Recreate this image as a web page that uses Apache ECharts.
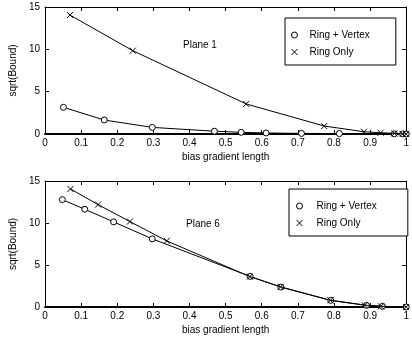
<!DOCTYPE html>
<html>
<head>
<meta charset="utf-8">
<script src="https://cdn.jsdelivr.net/npm/echarts@6/dist/echarts.min.js"></script>
<style>
  html, body { margin: 0; padding: 0; background: #fff; }
  #chart { width: 412px; height: 337px; }
</style>
</head>
<body>
<div id="chart"></div>
<script>
// Plane 1 (top panel)
const p1RingVertexX = [0.051, 0.164, 0.297, 0.469, 0.543, 0.612, 0.71, 0.815, 0.967, 0.99, 1.0];
const p1RingVertexY = [3.15, 1.65, 0.78, 0.33, 0.2, 0.12, 0.07, 0.05, 0.02, 0.01, 0];
const p1RingOnlyX = [0.069, 0.243, 0.557, 0.773, 0.883, 0.929, 0.967, 0.99, 1.0];
const p1RingOnlyY = [14.05, 9.84, 3.55, 0.94, 0.27, 0.15, 0.07, 0.02, 0];

// Plane 6 (bottom panel)
const p6RingVertexX = [0.048, 0.110, 0.190, 0.297, 0.568, 0.653, 0.791, 0.89, 0.934, 1.0];
const p6RingVertexY = [12.78, 11.64, 10.13, 8.11, 3.64, 2.37, 0.79, 0.2, 0.08, 0];
const p6RingOnlyX = [0.0705, 0.147, 0.235, 0.337, 0.567, 0.652, 0.79, 0.885, 0.93, 1.0];
const p6RingOnlyY = [14.05, 12.19, 10.17, 7.87, 3.62, 2.4, 0.8, 0.22, 0.08, 0];

const seriesNames = ["Ring + Vertex", "Ring Only"];
const panelLabels = ["Plane 1", "Plane 6"];
const xTitle = "bias gradient length";
const yTitle = "sqrt(Bound)";

const FONT = "Liberation Sans, Arial, Helvetica, sans-serif";
const CROSS = "path://M0,0L10,10M10,0L0,10";

const zip = (xs, ys) => xs.map((x, i) => [x, ys[i]]);

const chart = echarts.init(document.getElementById("chart"), null, { renderer: "canvas" });

const grids = [
  { left: 33, right: 0, top: 7, height: 127 },
  { left: 33, right: 0, top: 181, height: 126 },
];

function bottomX(gi) {
  return {
    gridIndex: gi, type: "value", min: 0, max: 1, interval: 0.1, position: "bottom",
    name: xTitle, nameLocation: "middle", nameGap: 18,
    nameTextStyle: { color: "#000", fontFamily: FONT, fontSize: 10 },
    axisLine: { show: true, onZero: false, lineStyle: { color: "#000", width: 2 } },
    axisTick: { show: true, inside: true, length: 4, lineStyle: { color: "#000" } },
    axisLabel: { color: "#000", fontFamily: FONT, fontSize: 10, margin: 4 },
    splitLine: { show: false },
  };
}
function topX(gi) {
  return {
    gridIndex: gi, type: "value", min: 0, max: 1, interval: 0.1, position: "top",
    axisLine: { show: true, onZero: false, lineStyle: { color: "#000", width: 1 } },
    axisTick: { show: true, inside: true, length: 4, lineStyle: { color: "#000" } },
    axisLabel: { show: false }, splitLine: { show: false },
  };
}
function leftY(gi) {
  return {
    gridIndex: gi, type: "value", min: 0, max: 15, interval: 5, position: "left",
    name: yTitle, nameLocation: "middle", nameGap: 19,
    nameTextStyle: { color: "#000", fontFamily: FONT, fontSize: 10 },
    axisLine: { show: true, onZero: false, lineStyle: { color: "#000", width: 1 } },
    axisTick: { show: true, inside: true, length: 4, lineStyle: { color: "#000" } },
    axisLabel: { color: "#000", fontFamily: FONT, fontSize: 10, margin: 5 },
    splitLine: { show: false },
  };
}
function rightY(gi) {
  return {
    gridIndex: gi, type: "value", min: 0, max: 15, interval: 5, position: "right",
    axisLine: { show: true, onZero: false, lineStyle: { color: "#000", width: 1 } },
    axisTick: { show: true, inside: true, length: 4, lineStyle: { color: "#000" } },
    axisLabel: { show: false }, splitLine: { show: false },
  };
}

function lineSeries(name, data, xi, yi, symbol) {
  const isCross = symbol === CROSS;
  return {
    name, type: "line", data, xAxisIndex: xi, yAxisIndex: yi,
    symbol, symbolSize: 6, showSymbol: true,
    lineStyle: { color: "#000", width: 1 },
    itemStyle: { color: isCross ? "#000" : "#fff", borderColor: "#000", borderWidth: 1 },
    emphasis: { disabled: true }, animation: false, z: isCross ? 3 : 2,
  };
}

function legend(left, top, padLeft, textPad, padRight) {
  return {
    orient: "vertical", left, top,
    padding: [12, padRight, 8, padLeft],
    itemGap: 7, itemWidth: 6, itemHeight: 6,
    borderColor: "#000", borderWidth: 1, backgroundColor: "#fff",
    selectedMode: false,
    textStyle: { color: "#000", fontFamily: FONT, fontSize: 10, padding: [0, 0, 0, textPad] },
    data: [
      { name: seriesNames[0], icon: "circle", itemStyle: { color: "#fff", borderColor: "#000", borderWidth: 1 } },
      { name: seriesNames[1], icon: CROSS, itemStyle: { color: "#000", borderColor: "#000", borderWidth: 1 } },
    ],
  };
}

chart.setOption({
  animation: false,
  backgroundColor: "#fff",
  grid: grids,
  xAxis: [bottomX(0), topX(0), bottomX(1), topX(1)],
  yAxis: [leftY(0), rightY(0), leftY(1), rightY(1)],
  title: [
    { text: panelLabels[0], left: 183, top: 40, textStyle: { color: "#000", fontFamily: FONT, fontSize: 10, fontWeight: "normal" }, padding: 0 },
    { text: panelLabels[1], left: 186, top: 219, textStyle: { color: "#000", fontFamily: FONT, fontSize: 10, fontWeight: "normal" }, padding: 0 },
  ],
  legend: [
    legend(285, 18, 6, 7, 26),
    legend(289, 189, 7, 9, 31),
  ],
  series: [
    lineSeries(seriesNames[0], zip(p1RingVertexX, p1RingVertexY), 0, 0, "circle"),
    lineSeries(seriesNames[1], zip(p1RingOnlyX, p1RingOnlyY), 0, 0, CROSS),
    lineSeries(seriesNames[0], zip(p6RingVertexX, p6RingVertexY), 2, 2, "circle"),
    lineSeries(seriesNames[1], zip(p6RingOnlyX, p6RingOnlyY), 2, 2, CROSS),
  ],
});
</script>
</body>
</html>
